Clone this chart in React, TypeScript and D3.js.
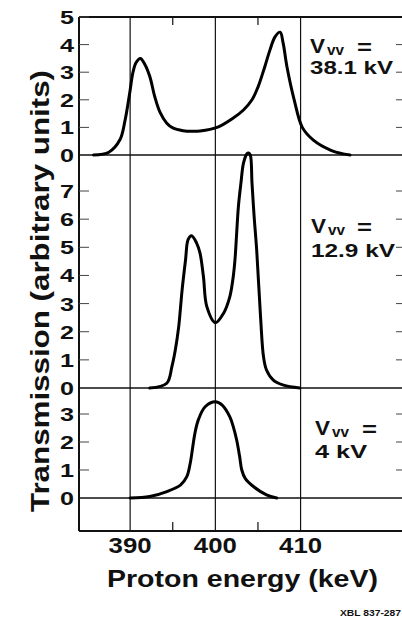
import React from "react";
import * as d3 from "d3";

// ---- Data ----
const energy38 = [385.7, 387.5, 388.8, 389.4, 390.0, 390.3, 390.7, 391.2, 391.7, 392.3, 392.9, 393.5, 394.3, 395.0, 396.2, 397.4, 398.2, 400.2, 402.1, 403.3, 404.3, 405.0, 405.8, 406.4, 407.0, 407.6, 407.95, 408.4, 409.25, 410.2, 411.5, 413.5, 415.0, 415.8];
const trans38 = [0, 0.1, 0.55, 1.25, 2.35, 2.95, 3.35, 3.5, 3.3, 2.85, 2.1, 1.55, 1.15, 0.98, 0.88, 0.86, 0.87, 1.0, 1.34, 1.63, 2.0, 2.46, 3.2, 3.8, 4.28, 4.45, 4.06, 3.2, 2.0, 1.0, 0.54, 0.18, 0.04, 0];

const energy129 = [392.3, 394.3, 394.9, 395.3, 395.7, 396.1, 396.5, 396.8, 397.2, 397.8, 398.2, 398.6, 399.0, 400.0, 400.95, 401.7, 402.1, 402.3, 402.5, 402.7, 403.0, 403.3, 403.7, 403.9, 404.1, 404.3, 404.55, 404.85, 405.3, 405.65, 406.0, 406.8, 408.0, 409.9];
const trans129 = [0, 0.17, 0.76, 1.35, 2.18, 3.49, 4.55, 5.27, 5.41, 5.15, 4.79, 3.96, 2.89, 2.32, 2.65, 3.25, 3.96, 4.55, 5.5, 6.44, 7.28, 7.99, 8.32, 8.35, 8.28, 7.28, 6.09, 4.9, 2.54, 1.11, 0.64, 0.28, 0.1, 0];

const energy4 = [390.0, 392.3, 394.3, 395.9, 396.65, 397.05, 397.35, 397.6, 398.0, 398.8, 400.0, 400.8, 401.7, 402.1, 402.5, 402.85, 403.1, 403.5, 404.5, 406.0, 407.2];
const trans4 = [0, 0.05, 0.23, 0.46, 0.76, 1.24, 1.83, 2.31, 2.79, 3.26, 3.44, 3.32, 2.9, 2.55, 2.07, 1.48, 1.0, 0.7, 0.4, 0.11, 0];

const ticks38 = [0, 1, 2, 3, 4, 5];
const ticks129 = [0, 1, 2, 3, 4, 5, 6, 7];
const ticks4 = [0, 1, 2, 3];
const rightTicks38 = [1, 2, 3, 4];
const rightTicks129 = [1, 2, 3, 4, 5, 6, 7];
const rightTicks4 = [1, 2, 3];

const xTicks = [390, 400, 410];
const xMinorTicks = [395, 405];

const voltageLabels = ["38.1 kV", "12.9 kV", "4 kV"];
const yTitle = "Transmission (arbitrary units)";
const xTitle = "Proton energy (keV)";
const figId = "XBL 837-287";

// ---- Layout ----
const W = 402;
const H = 618;
const L = 79;
const R = 402;
const TOP = 17;
const BOTTOM = 531;
const FONT = "'Liberation Sans', Arial, Helvetica, sans-serif";

const x = d3.scaleLinear().domain([384, 421.9]).range([L, R]);
const y1 = d3.scaleLinear().domain([0, 5]).range([155, TOP]);
const y2 = d3.scaleLinear().domain([0, 8.28]).range([388, 155]);
const y3 = d3.scaleLinear().domain([-1.18, 3.93]).range([BOTTOM, 388]);

const panels = [
  { e: energy38, t: trans38, y: y1, ticks: ticks38, rticks: rightTicks38, label: voltageLabels[0], vx: 310, b1: 53, b2: 74, eqx: 357, lw: 83 },
  { e: energy129, t: trans129, y: y2, ticks: ticks129, rticks: rightTicks129, label: voltageLabels[1], vx: 311, b1: 233, b2: 257, eqx: 357, lw: 84 },
  { e: energy4, t: trans4, y: y3, ticks: ticks4, rticks: rightTicks4, label: voltageLabels[2], vx: 315, b1: 435, b2: 458, eqx: 362, lw: 52 },
];

export default function App() {
  return (
    <svg
      width={W}
      height={H}
      viewBox={`0 0 ${W} ${H}`}
      style={{ position: "absolute", left: 0, top: 0, background: "#fff" }}
      fontFamily={FONT}
      fontWeight="bold"
    >
      {/* vertical grid lines */}
      {xTicks.map((v) => (
        <line key={"g" + v} x1={x(v)} x2={x(v)} y1={TOP} y2={BOTTOM} stroke="#111" strokeWidth={1.2} />
      ))}
      {/* minor x ticks top & bottom */}
      {xMinorTicks.map((v) => (
        <g key={"m" + v}>
          <line x1={x(v)} x2={x(v)} y1={TOP} y2={TOP + 8} stroke="#111" strokeWidth={1.2} />
          <line x1={x(v)} x2={x(v)} y1={BOTTOM} y2={BOTTOM - 9} stroke="#111" strokeWidth={1.2} />
        </g>
      ))}
      {/* frame */}
      <line x1={L} x2={R} y1={TOP} y2={TOP} stroke="#111" strokeWidth={2} />
      <line x1={L} x2={L} y1={TOP} y2={BOTTOM} stroke="#111" strokeWidth={2} />
      <line x1={L} x2={R} y1={BOTTOM} y2={BOTTOM} stroke="#111" strokeWidth={2} />

      {panels.map((p, i) => {
        const line = d3
          .line<number>()
          .x((_, k) => x(p.e[k]))
          .y((d) => p.y(Math.max(0, d)))
          .curve(d3.curveCatmullRom.alpha(0.5));
        return (
          <g key={"p" + i}>
            {/* zero line */}
            <line x1={L} x2={R} y1={p.y(0)} y2={p.y(0)} stroke="#111" strokeWidth={1.6} />
            {/* left ticks + labels */}
            {p.ticks.map((v) => (
              <g key={"t" + v}>
                {v !== 0 && <line x1={L} x2={L + 10} y1={p.y(v)} y2={p.y(v)} stroke="#444" strokeWidth={1} />}
                <text x={74} y={p.y(v) + 7} fontSize={18.5} textAnchor="end" textLength={14} lengthAdjust="spacingAndGlyphs" fill="#111">
                  {v}
                </text>
              </g>
            ))}
            {/* right ticks */}
            {p.rticks.map((v) => (
              <line key={"r" + v} x1={R - 6} x2={R} y1={p.y(v)} y2={p.y(v)} stroke="#444" strokeWidth={1} />
            ))}
            {/* curve */}
            <path d={line(p.t) || ""} fill="none" stroke="#000" strokeWidth={3} strokeLinejoin="round" strokeLinecap="round" />
            {/* annotation */}
            <text x={p.vx} y={p.b1} fontSize={20} textLength={15} lengthAdjust="spacingAndGlyphs" fill="#111">V</text>
            <text x={p.vx + 17} y={p.b1 + 2} fontSize={14} textLength={17} lengthAdjust="spacingAndGlyphs" fill="#111">vv</text>
            <text x={p.eqx} y={p.b1 + 1} fontSize={20} textLength={15} lengthAdjust="spacingAndGlyphs" fill="#111">=</text>
            <text x={p.vx} y={p.b2} fontSize={19} textLength={p.lw} lengthAdjust="spacingAndGlyphs" fill="#111">
              {p.label}
            </text>
          </g>
        );
      })}

      {/* x tick labels */}
      {xTicks.map((v) => (
        <text key={"xl" + v} x={x(v)} y={553} fontSize={22} textAnchor="middle" textLength={43} lengthAdjust="spacingAndGlyphs" fill="#111">
          {v}
        </text>
      ))}
      {/* axis titles */}
      <text x={242.5} y={587} fontSize={24} textAnchor="middle" textLength={271} lengthAdjust="spacingAndGlyphs" fill="#111">
        {xTitle}
      </text>
      <text
        transform="translate(49,291) rotate(-90)"
        fontSize={25}
        textAnchor="middle"
        textLength={442}
        lengthAdjust="spacingAndGlyphs"
        fill="#111"
      >
        {yTitle}
      </text>
      <text x={340} y={616} fontSize={9.5} textLength={61} lengthAdjust="spacingAndGlyphs" fill="#111">
        {figId}
      </text>
    </svg>
  );
}
